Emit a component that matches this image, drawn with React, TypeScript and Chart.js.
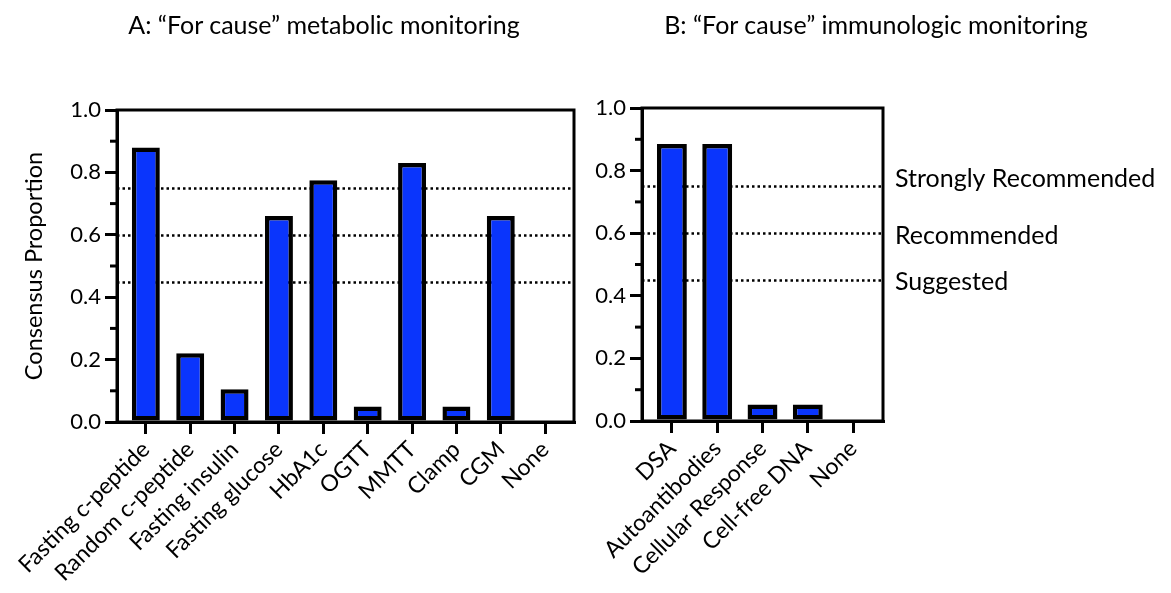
import React, { useEffect, useRef } from 'react';
import { Chart, registerables } from 'chart.js';
Chart.register(...registerables);

const metabolicLabels = ['Fasting c-peptide', 'Random c-peptide', 'Fasting insulin', 'Fasting glucose', 'HbA1c', 'OGTT', 'MMTT', 'Clamp', 'CGM', 'None'];
const metabolicValues = [0.88, 0.22, 0.105, 0.66, 0.775, 0.05, 0.83, 0.05, 0.66, 0];
const immunoLabels = ['DSA', 'Autoantibodies', 'Cellular Response', 'Cell-free DNA', 'None'];
const immunoValues = [0.885, 0.885, 0.053, 0.053, 0];
const yTicks = [0, 0.2, 0.4, 0.6, 0.8, 1.0];
const yMinorTicks = [0.1, 0.3, 0.5, 0.7, 0.9];
const thresholdValues = [0.75, 0.6, 0.45];
const thresholdLabels = ['Strongly Recommended', 'Recommended', 'Suggested'];
const thresholdLabelOffsets = [1, 11, 10];
const titleA = 'A: \u201CFor cause\u201D metabolic monitoring';
const titleB = 'B: \u201CFor cause\u201D immunologic monitoring';
const yAxisTitle = 'Consensus Proportion';

const FONT = 'Lato';
const BAR_COLOR = '#0a35fc';

const panelPlugin = {
  id: 'panel',
  beforeDatasetsDraw(chart: any, _args: any, opts: any) {
    const { ctx, chartArea: a, scales } = chart;
    const y = scales.y;
    ctx.save();
    ctx.strokeStyle = '#000';
    ctx.lineWidth = 2.5;
    ctx.setLineDash([2.5, 3]);
    for (const v of opts.lines || []) {
      const py = Math.round(y.getPixelForValue(v)) + 0.5;
      ctx.beginPath();
      ctx.moveTo(a.left, py);
      ctx.lineTo(a.right, py);
      ctx.stroke();
    }
    ctx.restore();
  },
  afterDraw(chart: any, _args: any, opts: any) {
    const { ctx, chartArea: a, scales } = chart;
    const y = scales.y;
    ctx.save();
    ctx.strokeStyle = '#000';
    ctx.lineWidth = 3;
    ctx.setLineDash([]);
    ctx.strokeRect(a.left, a.top, a.right - a.left, a.bottom - a.top);
    for (const v of yMinorTicks) {
      const py = y.getPixelForValue(v);
      ctx.beginPath();
      ctx.moveTo(a.left, py);
      ctx.lineTo(a.left - 7, py);
      ctx.stroke();
    }
    if (opts.sideLabels) {
      ctx.fillStyle = '#000';
      ctx.font = `25px ${FONT}`;
      ctx.textAlign = 'left';
      ctx.textBaseline = 'alphabetic';
      opts.sideLabels.forEach((t: string, i: number) => {
        const py = y.getPixelForValue(thresholdValues[i]) + thresholdLabelOffsets[i];
        ctx.fillText(t, a.right + 12, py);
      });
    }
    ctx.restore();
  },
};

type PanelProps = {
  labels: string[];
  values: number[];
  left: number;
  width: number;
  yAxisWidth: number;
  padTop: number;
  padRight: number;
  bottomH: number;
  showYTitle: boolean;
  barPct: number;
  xPad: number;
  sideLabels?: string[];
};

function Panel(p: PanelProps) {
  const ref = useRef<HTMLCanvasElement>(null);
  useEffect(() => {
    const n = p.labels.length;
    const chart = new Chart(ref.current as HTMLCanvasElement, {
      type: 'bar',
      data: {
        datasets: [
          {
            data: p.values.map((v, i) => ({ x: i, y: v })),
            backgroundColor: BAR_COLOR,
            borderColor: '#000',
            borderWidth: 4.5,
            borderSkipped: false,
            barPercentage: p.barPct,
            categoryPercentage: 1,
          },
        ],
      },
      options: {
        responsive: false,
        animation: false,
        layout: { padding: { top: p.padTop, right: p.padRight, left: 0, bottom: 0 } },
        plugins: {
          legend: { display: false },
          tooltip: { enabled: false },
          panel: { lines: thresholdValues, sideLabels: p.sideLabels },
        } as any,
        scales: {
          x: {
            type: 'linear',
            offset: false,
            min: -p.xPad,
            max: n - 1 + p.xPad,
            afterBuildTicks: (s: any) => {
              s.ticks = p.labels.map((_, i) => ({ value: i }));
            },
            afterFit: (s: any) => {
              s.height = p.bottomH;
            },
            ticks: {
              autoSkip: false,
              maxRotation: 45,
              minRotation: 45,
              padding: 2,
              color: '#000',
              font: { family: FONT, size: 23 },
              callback: (v: any) => p.labels[Math.round(v)] ?? '',
            },
            grid: { display: true, offset: false, drawOnChartArea: false, drawTicks: true, tickLength: 12, color: '#000', lineWidth: 3 },
            border: { display: true, color: '#000', width: 3 },
          },
          y: {
            min: 0,
            max: 1,
            afterBuildTicks: (s: any) => {
              s.ticks = yTicks.map((v) => ({ value: v }));
            },
            afterFit: (s: any) => {
              s.width = p.yAxisWidth;
            },
            ticks: {
              padding: 4,
              color: '#000',
              font: { family: FONT, size: 22 },
              callback: (v: any) => Number(v).toFixed(1),
            },
            title: {
              display: p.showYTitle,
              text: yAxisTitle,
              color: '#000',
              font: { family: FONT, size: 23.5 },
              padding: { top: 20, bottom: 0 },
            },
            grid: { display: true, drawOnChartArea: false, drawTicks: true, tickLength: 12, color: '#000', lineWidth: 3 },
            border: { display: true, color: '#000', width: 3 },
          },
        },
      } as any,
      plugins: [panelPlugin as any],
    });
    return () => chart.destroy();
  }, []);
  return (
    <canvas
      ref={ref}
      width={p.width}
      height={593}
      style={{ position: 'absolute', left: p.left, top: 0, width: p.width, height: 593 }}
    />
  );
}

export default function App() {
  const titleStyle: React.CSSProperties = {
    position: 'absolute',
    top: 7,
    fontFamily: FONT,
    fontSize: 25,
    lineHeight: '34px',
    color: '#000',
    textAlign: 'center',
    whiteSpace: 'nowrap',
  };
  return (
    <div style={{ position: 'absolute', left: 0, top: 0, width: 1171, height: 593, background: '#fff', overflow: 'hidden' }}>
      <Panel
        labels={metabolicLabels}
        values={metabolicValues}
        left={0}
        width={590}
        yAxisWidth={117}
        padTop={110}
        padRight={16}
        bottomH={171}
        showYTitle={true}
        barPct={0.63}
        xPad={0.65}
      />
      <Panel
        labels={immunoLabels}
        values={immunoValues}
        left={570}
        width={601}
        yAxisWidth={72}
        padTop={108}
        padRight={288}
        bottomH={172}
        showYTitle={false}
        barPct={0.66}
        xPad={0.66}
        sideLabels={thresholdLabels}
      />
      <div style={{ ...titleStyle, left: 24, width: 600 }}>{titleA}</div>
      <div style={{ ...titleStyle, left: 576, width: 600 }}>{titleB}</div>
    </div>
  );
}
